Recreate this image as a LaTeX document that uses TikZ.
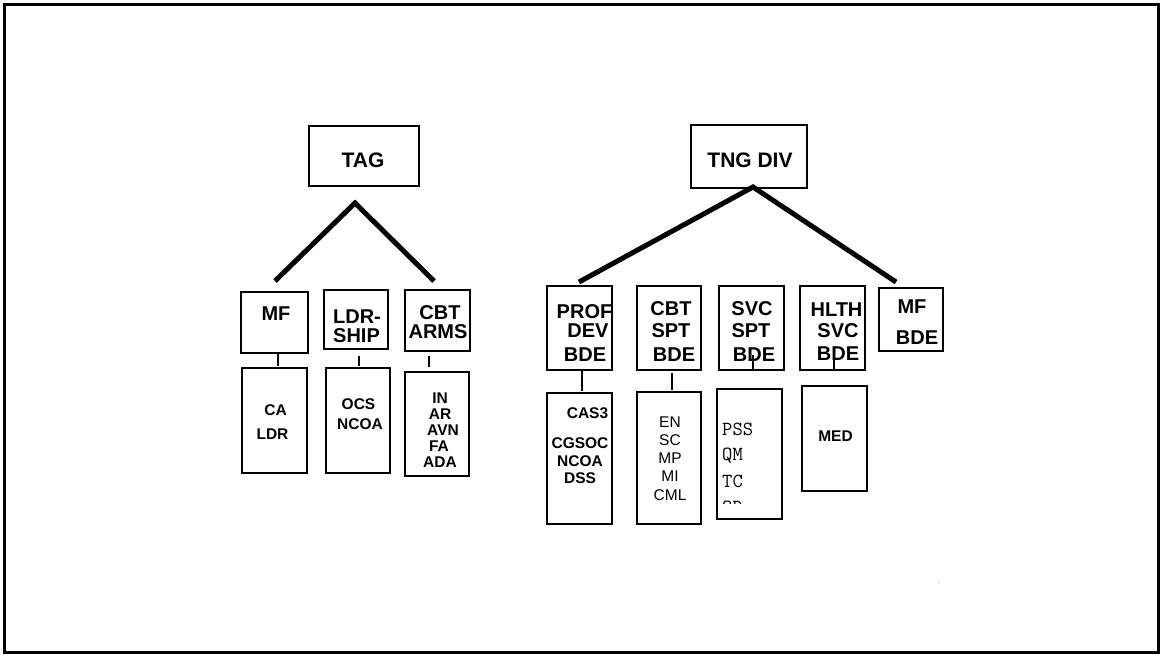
\documentclass[tikz,border=0pt]{standalone}
\usepackage{fontspec}
\setmainfont{Liberation Sans}
\begin{document}
\begin{tikzpicture}[x=1pt,y=-1pt,
  bx/.style={draw, line width=2.5pt, inner sep=0pt, anchor=north west},
  thick line/.style={line width=5pt},
  conn/.style={line width=2.5pt},
  big/.style={inner sep=0pt, anchor=base, font=\bfseries\fontsize{20}{20}\selectfont},
  huge/.style={inner sep=0pt, anchor=base, font=\bfseries\fontsize{21}{21}\selectfont},
  sm/.style={inner sep=0pt, anchor=base, font=\bfseries\fontsize{15.5}{15.5}\selectfont},
  rg/.style={inner sep=0pt, anchor=base, font=\fontsize{15.5}{15.5}\selectfont},
  mono/.style={inner sep=0pt, anchor=base west, font=\ttfamily\fontsize{20}{20}\selectfont}]
\useasboundingbox (0,0) rectangle (1161,654);
\draw[line width=3pt] (4.5,4.5) rectangle (1158.5,652.5);

% boxes
\node[bx, minimum width=110pt, minimum height=60pt] (tag) at (307.5,124.5) {};
\node[bx, minimum width=116pt, minimum height=63pt] (tng) at (689.5,123.5) {};
\node[bx, minimum width=67pt, minimum height=61pt] (mf) at (239.5,290.5) {};
\node[bx, minimum width=64pt, minimum height=59pt] (ldr) at (322.5,288.5) {};
\node[bx, minimum width=65pt, minimum height=61pt] (cbt) at (403.5,288.5) {};
\node[bx, minimum width=65pt, minimum height=105pt] (mfsub) at (240.5,366.5) {};
\node[bx, minimum width=64pt, minimum height=105pt] (ldrsub) at (324.5,366.5) {};
\node[bx, minimum width=64pt, minimum height=104pt] (cbtsub) at (403.5,370.5) {};
\node[bx, minimum width=65pt, minimum height=84pt] (prof) at (545.5,284.5) {};
\node[bx, minimum width=64pt, minimum height=84pt] (cbtspt) at (635.5,284.5) {};
\node[bx, minimum width=65pt, minimum height=84pt] (svc) at (717.5,284.5) {};
\node[bx, minimum width=65pt, minimum height=84pt] (hlth) at (798.5,284.5) {};
\node[bx, minimum width=64pt, minimum height=63pt] (mfbde) at (877.5,286.5) {};
\node[bx, minimum width=65pt, minimum height=131pt] (profsub) at (545.5,391.5) {};
\node[bx, minimum width=64pt, minimum height=132pt] (cbtsptsub) at (635.5,390.5) {};
\node[bx, minimum width=65pt, minimum height=130pt] (svcsub) at (715.5,387.5) {};
\node[bx, minimum width=65pt, minimum height=105pt] (hlthsub) at (800.5,384.5) {};

% tree lines
\coordinate (tagapex) at (355,203);
\coordinate (tagl) at (275,281);
\coordinate (tagr) at (434,281);
\coordinate (tngapex) at (753,187);
\coordinate (tngl) at (579,282);
\coordinate (tngr) at (896,282);
\draw[thick line] (tagl) -- (tagapex) -- (tagr);
\draw[thick line] (tngl) -- (tngapex) -- (tngr);

% short connectors
\coordinate (c1a) at (278,352); \coordinate (c1b) at (278,366);
\coordinate (c2a) at (359,356); \coordinate (c2b) at (359,366);
\coordinate (c3a) at (429,356); \coordinate (c3b) at (429,367);
\coordinate (c4a) at (582,369); \coordinate (c4b) at (582,391);
\coordinate (c5a) at (672,373); \coordinate (c5b) at (672,390);
\coordinate (c6a) at (753,355); \coordinate (c6b) at (753,369);
\coordinate (c7a) at (834,349); \coordinate (c7b) at (834,369);
\draw[conn] (c1a) -- (c1b);
\draw[conn] (c2a) -- (c2b);
\draw[conn] (c3a) -- (c3b);
\draw[conn] (c4a) -- (c4b);
\draw[conn] (c5a) -- (c5b);
\draw[conn] (c6a) -- (c6b);
\draw[conn] (c7a) -- (c7b);

% texts
\node[huge] (tTAG) at (363,167) {TAG};
\node[huge] (tTNG) at (750,167) {TNG DIV};
\node[big] (tMF) at (276,320) {MF};
\node[big] (tLDR1) at (357,323) {LDR-};
\node[big] (tLDR2) at (356.5,342) {SHIP};
\node[big] (tCBT1) at (440,319) {CBT};
\node[big] (tCBT2) at (438,338) {ARMS};
\node[big] (tPROF1) at (584.5,318) {PROF};
\node[big] (tPROF2) at (588,337) {DEV};
\node[big] (tPROF3) at (585,361) {BDE};
\node[big] (tCS1) at (671,315) {CBT};
\node[big] (tCS2) at (671,337) {SPT};
\node[big] (tCS3) at (674,361) {BDE};
\node[big] (tSVC1) at (752,315) {SVC};
\node[big] (tSVC2) at (751,337) {SPT};
\node[big] (tSVC3) at (754,361) {BDE};
\node[big] (tHL1) at (836.5,316) {HLTH};
\node[big] (tHL2) at (838,337) {SVC};
\node[big] (tHL3) at (838,360) {BDE};
\node[big] (tMFB1) at (912,313) {MF};
\node[big] (tMFB2) at (917,344) {BDE};

\node[sm] (tCA) at (275.5,415) {CA};
\node[sm] (tCALDR) at (272.5,439) {LDR};
\node[sm] (tOCS) at (358.5,409) {OCS};
\node[sm] (tNCOA1) at (360,429) {NCOA};
\node[sm] (tIN) at (440,403) {IN};
\node[sm] (tAR) at (440,419) {AR};
\node[sm] (tAVN) at (443,435) {AVN};
\node[sm] (tFA) at (439,451) {FA};
\node[sm] (tADA) at (440,467) {ADA};
\node[sm] (tCAS) at (587.5,418) {CAS3};
\node[sm] (tCGS) at (580,448) {CGSOC};
\node[sm] (tNCOA2) at (580,466) {NCOA};
\node[sm] (tDSS) at (580,483) {DSS};
\node[rg] (tEN) at (670,427) {EN};
\node[rg] (tSC) at (670,445) {SC};
\node[rg] (tMP) at (670,463) {MP};
\node[rg] (tMI) at (670,481) {MI};
\node[rg] (tCML) at (670,500) {CML};
\begin{scope}
\clip (716,388) rectangle (781,503);
\node[mono] (tPSS) at (722,435) {PSS};
\node[mono] (tQM) at (722,460) {QM};
\node[mono] (tTC) at (722,487) {TC};
\node[mono] (tOD) at (722,513) {OD};
\end{scope}
\node[sm] (tMED) at (835.5,441) {MED};
\node[inner sep=0pt, anchor=base, text=black!12, font=\fontsize{8}{8}\selectfont] (tnum) at (939,584) {1};
\end{tikzpicture}
\end{document}
